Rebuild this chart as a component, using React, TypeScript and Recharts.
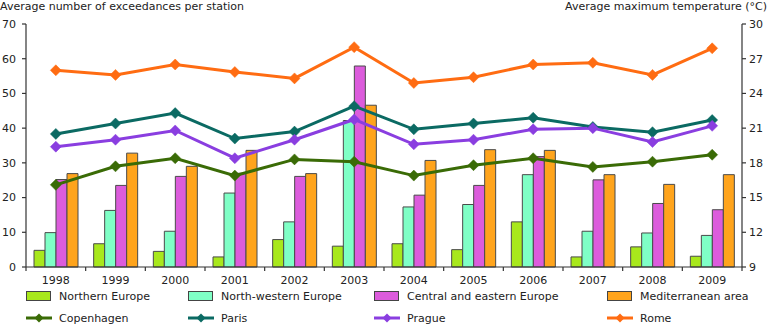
import React from 'react';
import { ComposedChart, Bar, Line, XAxis, YAxis } from 'recharts';

const years = ['1998', '1999', '2000', '2001', '2002', '2003', '2004', '2005', '2006', '2007', '2008', '2009'];
const northernEurope = [4.8, 6.7, 4.5, 2.9, 7.9, 6.0, 6.7, 5.0, 13.0, 2.9, 5.8, 3.1];
const northWesternEurope = [9.9, 16.3, 10.3, 21.3, 13.0, 42.2, 17.3, 18.0, 26.6, 10.3, 9.8, 9.1];
const centralEasternEurope = [25.2, 23.5, 26.1, 27.0, 26.1, 57.9, 20.7, 23.5, 31.8, 25.1, 18.3, 16.5];
const mediterranean = [26.9, 32.8, 29.0, 33.6, 26.9, 46.6, 30.7, 33.8, 33.6, 26.6, 23.8, 26.6];
const copenhagen = [16.1, 17.7, 18.4, 16.9, 18.3, 18.1, 16.9, 17.8, 18.4, 17.65, 18.1, 18.7];
const paris = [20.5, 21.4, 22.3, 20.1, 20.7, 22.9, 20.9, 21.4, 21.9, 21.1, 20.65, 21.7];
const prague = [19.4, 20.0, 20.8, 18.4, 20.0, 21.75, 19.6, 20.0, 20.9, 21.0, 19.8, 21.2];
const rome = [26.0, 25.6, 26.5, 25.85, 25.3, 28.0, 24.9, 25.4, 26.5, 26.65, 25.6, 27.9];

const leftTicks = [0, 10, 20, 30, 40, 50, 60, 70];
const rightTicks = [9, 12, 15, 18, 21, 24, 27, 30];

const barSeries = [
  { key: 'ne', name: 'Northern Europe', color: '#a8e81c' },
  { key: 'nw', name: 'North-western Europe', color: '#7fffc6' },
  { key: 'ce', name: 'Central and eastern Europe', color: '#dc5cdc' },
  { key: 'med', name: 'Mediterranean area', color: '#ffa41c' },
];
const lineSeries = [
  { key: 'cph', name: 'Copenhagen', color: '#3a6b06' },
  { key: 'par', name: 'Paris', color: '#0b6a63' },
  { key: 'prg', name: 'Prague', color: '#8a3ee0' },
  { key: 'rom', name: 'Rome', color: '#ff6c12' },
];

const data = years.map((y, i) => ({
  year: y,
  ne: northernEurope[i],
  nw: northWesternEurope[i],
  ce: centralEasternEurope[i],
  med: mediterranean[i],
  cph: copenhagen[i],
  par: paris[i],
  prg: prague[i],
  rom: rome[i],
}));

const W = 768;
const H = 324;
const LEFT_W = 26;
const RIGHT_W = 26;
const TOP = 24;
const XAXIS_H = 57;
const TICK = 4;
const BAND = (W - LEFT_W - RIGHT_W) / years.length;
const FONT = '"DejaVu Sans", Verdana, sans-serif';
const TEXT = '#222';
const AXIS = '#333';

const Diamond = (props: any) => {
  const { cx, cy, stroke } = props;
  if (cx == null || cy == null) return null;
  const r = 5.5;
  return (
    <polygon
      points={`${cx},${cy - r} ${cx + r},${cy} ${cx},${cy + r} ${cx - r},${cy}`}
      fill={stroke}
      stroke={stroke}
      strokeWidth={0.5}
    />
  );
};

const XTick = (props: any) => {
  const { x, y, payload, index } = props;
  const top = y - TICK;
  const lx = x - BAND / 2;
  const rx = x + BAND / 2;
  return (
    <g>
      <line x1={lx} y1={top} x2={lx} y2={y} stroke={AXIS} strokeWidth={1.2} />
      {index === years.length - 1 && (
        <line x1={rx} y1={top} x2={rx} y2={y} stroke={AXIS} strokeWidth={1.2} />
      )}
      <text x={x} y={y + 13} textAnchor="middle" fontSize={11} fill={TEXT} fontFamily={FONT}>
        {payload.value}
      </text>
    </g>
  );
};

const legendCols = [26, 188, 374, 607];

const Legend2 = () => (
  <div style={{ position: 'absolute', left: 0, top: 0, width: W, height: H, pointerEvents: 'none' }}>
    {barSeries.map((s, i) => (
      <div key={s.key} style={{ position: 'absolute', left: legendCols[i], top: 289, height: 14, display: 'flex', alignItems: 'center' }}>
        <svg width={26} height={12} style={{ display: 'block' }}>
          <rect x={0.5} y={1.5} width={24} height={9} fill={s.color} stroke="#444" strokeWidth={1} />
        </svg>
        <span style={{ marginLeft: 7, fontSize: 11, color: TEXT, fontFamily: FONT, whiteSpace: 'nowrap' }}>{s.name}</span>
      </div>
    ))}
    {lineSeries.map((s, i) => (
      <div key={s.key} style={{ position: 'absolute', left: legendCols[i], top: 311, height: 14, display: 'flex', alignItems: 'center' }}>
        <svg width={26} height={12} style={{ display: 'block' }}>
          <line x1={0} y1={6} x2={26} y2={6} stroke={s.color} strokeWidth={3} />
          <polygon points="13,1.5 17.5,6 13,10.5 8.5,6" fill={s.color} />
        </svg>
        <span style={{ marginLeft: 7, fontSize: 11, color: TEXT, fontFamily: FONT, whiteSpace: 'nowrap' }}>{s.name}</span>
      </div>
    ))}
  </div>
);

export default function App() {
  return (
    <div style={{ position: 'absolute', left: 0, top: 0, width: W, height: H, fontFamily: FONT, background: '#fff' }}>
      <div style={{ position: 'absolute', left: 0, top: 0, fontSize: 11, color: TEXT, whiteSpace: 'nowrap', lineHeight: '13px' }}>
        Average number of exceedances per station
      </div>
      <div style={{ position: 'absolute', right: 1, top: 0, fontSize: 11, color: TEXT, whiteSpace: 'nowrap', lineHeight: '13px' }}>
        Average maximum temperature (°C)
      </div>
      <ComposedChart
        width={W}
        height={H}
        data={data}
        margin={{ top: TOP, right: 0, bottom: 0, left: 0 }}
        barGap={0}
        barSize={11}
        style={{ fontFamily: FONT }}
      >
        <XAxis
          dataKey="year"
          xAxisId="x"
          height={XAXIS_H}
          axisLine={{ stroke: AXIS, strokeWidth: 1.2 }}
          tickLine={false}
          tickSize={TICK}
          tickMargin={0}
          tick={<XTick />}
          interval={0}
        />
        <YAxis
          yAxisId="left"
          orientation="left"
          width={LEFT_W}
          domain={[0, 70]}
          ticks={leftTicks}
          interval={0}
          axisLine={{ stroke: AXIS, strokeWidth: 1.2 }}
          tickLine={{ stroke: AXIS, strokeWidth: 1.2 }}
          tickSize={TICK}
          tickMargin={6}
          tick={{ fontSize: 11, fill: TEXT, fontFamily: FONT }}
        />
        <YAxis
          yAxisId="right"
          orientation="right"
          width={RIGHT_W}
          domain={[9, 30]}
          ticks={rightTicks}
          interval={0}
          axisLine={{ stroke: AXIS, strokeWidth: 1.2 }}
          tickLine={{ stroke: AXIS, strokeWidth: 1.2 }}
          tickSize={TICK}
          tickMargin={3}
          tick={{ fontSize: 11, fill: TEXT, fontFamily: FONT }}
        />
        {barSeries.map((s) => (
          <Bar
            key={s.key}
            dataKey={s.key}
            name={s.name}
            xAxisId="x"
            yAxisId="left"
            fill={s.color}
            stroke="#4a4a4a"
            strokeWidth={1}
            isAnimationActive={false}
          />
        ))}
        {lineSeries.map((s) => (
          <Line
            key={s.key}
            dataKey={s.key}
            name={s.name}
            xAxisId="x"
            yAxisId="right"
            type="linear"
            stroke={s.color}
            strokeWidth={3}
            dot={<Diamond />}
            activeDot={false}
            isAnimationActive={false}
          />
        ))}
      </ComposedChart>
      <Legend2 />
    </div>
  );
}
